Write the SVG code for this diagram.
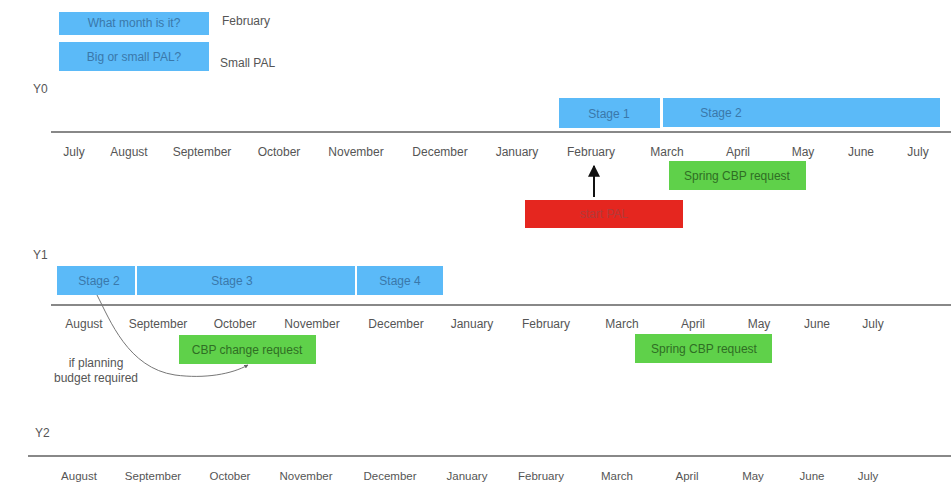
<svg xmlns="http://www.w3.org/2000/svg" width="951" height="484" viewBox="0 0 951 484">
<style>
text{font-family:"Liberation Sans",Arial,sans-serif;font-size:12px;fill:#555}
.m{text-anchor:middle}
.blue{fill:#5bbaf8}
.bt{fill:#3a78aa;text-anchor:middle}
.green{fill:#5fd14a}
.gt{fill:#2f6e24;text-anchor:middle}
.axis{stroke:#888;stroke-width:2;fill:none}
.r2 text{font-size:11.5px}
</style>
<defs>
<marker id="ah" viewBox="0 0 10 10" refX="9" refY="5" markerWidth="6" markerHeight="6" orient="auto-start-reverse">
<path d="M0,0 L10,5 L0,10 z" fill="#111"/>
</marker>
<marker id="ah2" viewBox="0 0 10 10" refX="9" refY="5" markerWidth="4" markerHeight="4" orient="auto">
<path d="M0,0 L10,5 L0,10 z" fill="#666"/>
</marker>
</defs>
<rect width="951" height="484" fill="#fff"/>

<g id="q1"><rect class="blue" x="59" y="12" width="150" height="23"/><text class="bt" x="134" y="27">What month is it?</text></g>
<text x="222" y="25">February</text>
<g id="q2"><rect class="blue" x="59" y="42" width="150" height="29"/><text class="bt" x="134" y="61">Big or small PAL?</text></g>
<text x="220" y="67">Small PAL</text>

<text x="33" y="93">Y0</text>
<text x="33" y="259">Y1</text>
<text x="35" y="437">Y2</text>

<g id="axes">
<line class="axis" x1="51" y1="132" x2="951" y2="132"/>
<line class="axis" x1="51" y1="305" x2="951" y2="305"/>
<line class="axis" x1="28" y1="456" x2="951" y2="456"/>
</g>

<g id="y0-stage1"><rect class="blue" x="559" y="98" width="101" height="30"/><text class="bt" x="609" y="118">Stage 1</text></g>
<g id="y0-stage2"><rect class="blue" x="663" y="98" width="277" height="29"/><text class="bt" x="721" y="117">Stage 2</text></g>

<g class="m">
<text x="74" y="156">July</text><text x="129" y="156">August</text><text x="202" y="156">September</text><text x="279" y="156">October</text><text x="356" y="156">November</text><text x="440" y="156">December</text><text x="517" y="156">January</text><text x="591" y="156">February</text><text x="667" y="156">March</text><text x="738" y="156">April</text><text x="803" y="156">May</text><text x="861" y="156">June</text><text x="918" y="156">July</text>
</g>

<g id="y0-spring"><rect class="green" x="669" y="161" width="137" height="29"/><text class="gt" x="737" y="180">Spring CBP request</text></g>
<g id="start-pal"><rect fill="#e5261f" x="525" y="200" width="158" height="28"/><text fill="#b33a3a" style="fill:#b33a3a" class="m" x="604" y="218">start PAL</text></g>

<g id="y1-stage2"><rect class="blue" x="57" y="266" width="78" height="29"/><text class="bt" x="99" y="285">Stage 2</text></g>
<g id="y1-stage3"><rect class="blue" x="137" y="266" width="218" height="29"/><text class="bt" x="232" y="285">Stage 3</text></g>
<g id="y1-stage4"><rect class="blue" x="357" y="266" width="86" height="29"/><text class="bt" x="400" y="285">Stage 4</text></g>

<g class="m">
<text x="84" y="328">August</text><text x="158" y="328">September</text><text x="235" y="328">October</text><text x="312" y="328">November</text><text x="396" y="328">December</text><text x="472" y="328">January</text><text x="546" y="328">February</text><text x="622" y="328">March</text><text x="693" y="328">April</text><text x="759" y="328">May</text><text x="817" y="328">June</text><text x="873" y="328">July</text>
</g>

<g id="cbp-change"><rect class="green" x="179" y="335" width="137" height="29"/><text class="gt" x="247" y="354">CBP change request</text></g>
<g id="y1-spring"><rect class="green" x="635" y="334" width="137" height="29"/><text class="gt" x="704" y="353">Spring CBP request</text></g>

<text class="m" x="96" y="367">if planning</text>
<text class="m" x="96" y="382">budget required</text>

<g class="m r2">
<text x="79" y="480">August</text><text x="153" y="480">September</text><text x="230" y="480">October</text><text x="306" y="480">November</text><text x="390" y="480">December</text><text x="467" y="480">January</text><text x="541" y="480">February</text><text x="617" y="480">March</text><text x="687" y="480">April</text><text x="753" y="480">May</text><text x="812" y="480">June</text><text x="868" y="480">July</text>
</g>

<g id="connectors">
<line x1="594" y1="197" x2="594" y2="166" stroke="#111" stroke-width="2" marker-end="url(#ah)"/>
<path d="M97,295 C110,320 128,368 175,375 C205,379 232,374 248,365" fill="none" stroke="#777" stroke-width="1" marker-end="url(#ah2)"/>
</g>
</svg>
